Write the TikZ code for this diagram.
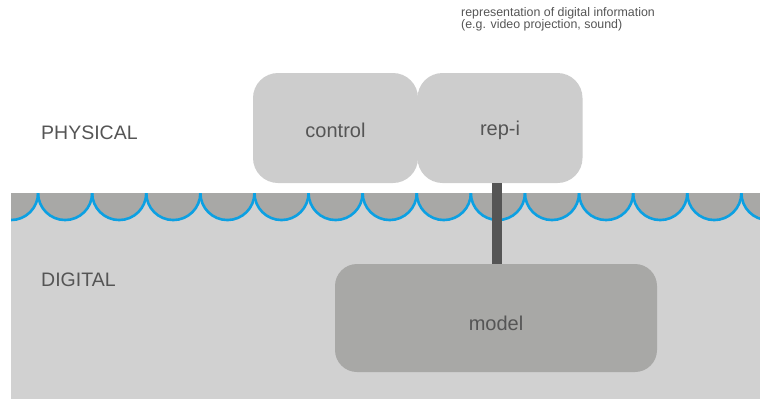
\documentclass[tikz,border=0pt]{standalone}
\usepackage{fontspec}
\setmainfont{Liberation Sans}
\definecolor{bglight}{HTML}{D1D1D1}
\definecolor{banddark}{HTML}{A8A8A6}
\definecolor{boxlight}{HTML}{CDCDCD}
\definecolor{boxdark}{HTML}{A8A8A6}
\definecolor{wave}{HTML}{0CA0E2}
\definecolor{txt}{HTML}{555555}
\definecolor{conn}{HTML}{555555}
\begin{document}
\begin{tikzpicture}[x=1pt,y=-1pt,
  upbox/.style={fill=boxlight,draw=none,rounded corners=25pt,minimum width=165pt,minimum height=110pt,inner sep=0pt,text=txt,font=\fontsize{20}{24}\selectfont},
  lowbox/.style={fill=boxdark,draw=none,rounded corners=22pt,minimum width=322pt,minimum height=108pt,inner sep=0pt,text=txt,font=\fontsize{20}{24}\selectfont},
  layerlabel/.style={anchor=base west,inner sep=0pt,text=txt,font=\fontsize{19.5}{22}\selectfont},
  note/.style={anchor=north west,inner sep=0pt,text=txt,align=left,font=\fontsize{12.4}{12.4}\selectfont},
  link/.style={draw=conn,line width=10pt}]
\useasboundingbox (0,0) rectangle (760,399);
% digital layer background
\fill[bglight] (11,193) rectangle (760,399);
% scalloped band
\begin{scope}
  \clip (11,193) rectangle (760,260);
  \foreach \k in {0,...,14} {
    \fill[banddark] ({11+54.1*\k-27.05},193) arc[start angle=180,end angle=0,radius=27.05] -- cycle;
  }
  \foreach \k in {0,...,14} {
    \draw[wave,line width=2.6pt] ({11+54.1*\k-27.05},193) arc[start angle=180,end angle=0,radius=27.05];
  }
\end{scope}
% boxes
\node[upbox] (control) at (335.5,128) {\raisebox{-2pt}[\height][\depth]{control}};
\node[upbox] (repi) at (500,128) {\raisebox{-2pt}[\height][\depth]{rep-i}};
\node[lowbox] (model) at (496,318) {\raisebox{-5pt}[\height][\depth]{model}};
% connector
\coordinate (cx) at (497,0);
\draw[link] (repi.south -| cx) -- (model.north -| cx);
% labels
\node[layerlabel] (phys) at (41,139.3) {PHYSICAL};
\node[layerlabel] (dig) at (41,286) {DIGITAL};
\node[note] (rep) at (461,7) {representation of digital information\\(e.g. video projection, sound)};
\end{tikzpicture}
\end{document}
